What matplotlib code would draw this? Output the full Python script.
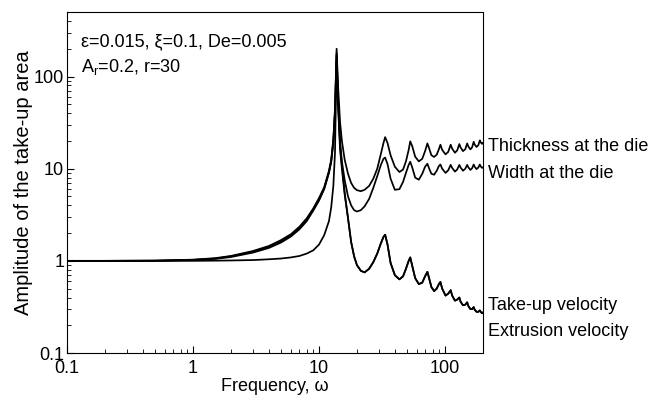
import matplotlib
matplotlib.use("Agg")
import matplotlib.pyplot as plt
from matplotlib.ticker import LogLocator, NullFormatter

plt.rcParams['font.family'] = ['Liberation Sans', 'DejaVu Sans']

# frequency grid
freq = [0.1, 0.2, 0.5, 1, 1.5, 2, 3, 4, 5, 6, 7, 8, 9, 10, 11, 12, 12.5, 13, 13.4, 13.8,
        14.2, 14.7, 15.2, 16, 17, 18, 19, 20, 21.5, 23, 25, 27, 29, 31, 32.5, 33.5,
        35, 37, 40, 43.5, 46.5, 49, 51.5, 53,
        55, 58, 62, 66, 69.5, 72.5,
        75, 78, 82, 86, 89.5, 92,
        95, 101, 106, 111,
        114, 120, 125, 130,
        133, 139, 145, 150,
        153, 159, 164, 169,
        172, 178, 184, 189,
        192, 197, 200]

thickness = [1, 1, 1.005, 1.03, 1.07, 1.13, 1.28, 1.45, 1.68, 1.95, 2.35, 2.9, 3.7, 4.8, 6.3, 9.5, 12.5, 21, 45, 200,
             75, 32, 20, 12.5, 8.8, 7.0, 6.2, 5.85, 5.7, 5.9, 6.5, 7.8, 10, 14.5, 19, 22,
             19, 14, 10.5, 9.2, 9.8, 12, 16, 19.8,
             17.5, 13.5, 12, 12.8, 15.5, 18.8,
             16.5, 14, 13.4, 14.2, 16.3, 18.2,
             16, 14.3, 15.2, 18.2,
             16.5, 14.9, 15.8, 18.5,
             17, 15.5, 16.3, 18.8,
             17.5, 16.2, 17, 19.6,
             18.3, 17.2, 18, 20.3,
             19.3, 18.6, 19]

width = [1, 1, 1.004, 1.025, 1.06, 1.12, 1.26, 1.42, 1.63, 1.9, 2.28, 2.8, 3.6, 4.6, 6.1, 9.2, 12, 20, 42, 180,
         55, 20, 12, 7.5, 5.0, 4.0, 3.55, 3.43, 3.55, 3.9, 4.7, 6.2, 8.3, 11, 12.8, 13.2,
         11.2, 7.8, 5.9, 6.0, 7.2, 9.0, 11, 11.9,
         10.3, 8.0, 7.6, 8.8, 10.5, 11.3,
         10, 8.8, 8.6, 9.5, 10.7, 11.1,
         10, 9.0, 9.6, 11,
         10.2, 9.3, 9.8, 11,
         10.3, 9.5, 10, 11,
         10.4, 9.7, 10.1, 11.1,
         10.5, 9.9, 10.3, 11.1,
         10.6, 10.2, 10.3]

takeup_vel = [1, 1, 1.003, 1.02, 1.05, 1.1, 1.23, 1.38, 1.58, 1.84, 2.2, 2.7, 3.5, 4.5, 6.0, 9.0, 11.8, 19, 40, 170,
              50, 18, 11, 5.5, 2.9, 1.6, 1.12, 0.9, 0.78, 0.75, 0.82, 0.97, 1.2, 1.55, 1.82, 1.92,
              1.5, 0.95, 0.7, 0.63, 0.68, 0.82, 1.0, 1.09,
              0.88, 0.65, 0.56, 0.58, 0.68, 0.76,
              0.64, 0.52, 0.47, 0.5, 0.56, 0.59,
              0.5, 0.42, 0.44, 0.48,
              0.42, 0.37, 0.38, 0.4,
              0.36, 0.33, 0.335, 0.355,
              0.325, 0.3, 0.3, 0.315,
              0.295, 0.28, 0.28, 0.29,
              0.28, 0.27, 0.275]

extrusion_vel = [1, 1, 1, 1, 1.005, 1.01, 1.02, 1.04, 1.06, 1.09, 1.13, 1.2, 1.3, 1.5, 1.9, 2.7, 3.8, 6.5, 15, 150,
                 45, 16, 10, 5.2, 2.9, 1.6, 1.12, 0.9, 0.78, 0.75, 0.82, 0.97, 1.2, 1.55, 1.82, 1.92,
                 1.5, 0.95, 0.7, 0.63, 0.68, 0.82, 1.0, 1.09,
                 0.88, 0.65, 0.56, 0.58, 0.68, 0.76,
                 0.64, 0.52, 0.47, 0.5, 0.56, 0.59,
                 0.5, 0.42, 0.44, 0.48,
                 0.42, 0.37, 0.38, 0.4,
                 0.36, 0.33, 0.335, 0.355,
                 0.325, 0.3, 0.3, 0.315,
                 0.295, 0.28, 0.28, 0.29,
                 0.28, 0.27, 0.275]

curve_labels = ["Thickness at the die", "Width at the die", "Take-up velocity", "Extrusion velocity"]
label_y = [17.6, 8.9, 0.33, 0.172]

fig = plt.figure(figsize=(6.54, 4.03), dpi=100)
ax = fig.add_axes([0.1024, 0.124, 0.636, 0.846])

for series in (thickness, width, takeup_vel, extrusion_vel):
    ax.plot(freq, series, color='black', lw=1.25)

ax.set_xscale('log')
ax.set_yscale('log')
ax.set_xlim(0.1, 200)
ax.set_ylim(0.1, 500)

ax.set_xticks([0.1, 1, 10, 100])
ax.set_xticklabels(['0.1', '1', '10', '100'])
ax.set_yticks([0.1, 1, 10, 100])
ax.set_yticklabels(['0.1', '1', '10', '100'])
for axis in (ax.xaxis, ax.yaxis):
    axis.set_minor_locator(LogLocator(base=10, subs=range(2, 10)))
    axis.set_minor_formatter(NullFormatter())
ax.tick_params(which='both', direction='in', top=False, right=False, labelsize=13)
ax.tick_params(axis='x', pad=5)
ax.tick_params(axis='y', pad=2)
ax.tick_params(which='major', length=5)
ax.tick_params(which='minor', length=3)

ax.set_xlabel('Frequency, ω', fontsize=13, labelpad=1)
ax.set_ylabel('Amplitude of the take-up area', fontsize=14.5, labelpad=1)

ax.text(0.1 * 10 ** 0.11, 10 ** 2.38, 'ε=0.015, ξ=0.1, De=0.005', fontsize=13, va='center')
ax.text(0.1 * 10 ** 0.11, 10 ** 2.1, 'A$_\\mathregular{r}$=0.2, r=30', fontsize=13, va='center')

for txt, yv in zip(curve_labels, label_y):
    ax.text(1.012, yv, txt, transform=ax.get_yaxis_transform(), fontsize=13,
            va='center', ha='left', clip_on=False)

fig.savefig('out.png', dpi=100)
